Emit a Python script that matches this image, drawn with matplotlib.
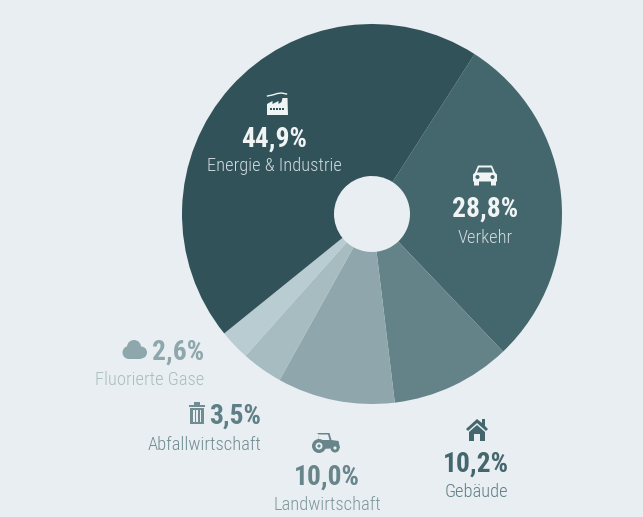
import matplotlib
matplotlib.use('Agg')
import matplotlib.pyplot as plt
from matplotlib.patches import Polygon, Circle, Rectangle

categories = ['Verkehr', 'Gebäude', 'Landwirtschaft', 'Abfallwirtschaft', 'Fluorierte Gase', 'Energie & Industrie']
values = [28.8, 10.2, 10.0, 3.5, 2.6, 44.9]
colors = ['#44666d', '#648389', '#8fa7ac', '#a6bcc1', '#b8ccd2', '#32525a']
pct_colors = ['#f0f4f5', '#44666d', '#67858b', '#5f7f86', '#8ea7ad', '#f0f4f5']
lab_colors = ['#cfdbde', '#5f7f86', '#7d979c', '#718c92', '#a9bdc2', '#cfdbde']

bg = '#e8eef1'
H = 517
plt.rcParams['font.family'] = ['Roboto Condensed', 'Liberation Sans', 'DejaVu Sans']

fig = plt.figure(figsize=(6.43, 5.17), dpi=100, facecolor=bg)
ax = fig.add_axes([0, 0, 1, 1])
ax.pie(values, colors=colors, startangle=57.3, counterclock=False,
       center=(372, H - 214), radius=190,
       wedgeprops=dict(width=152, linewidth=0))
ax.set_xlim(0, 643)
ax.set_ylim(0, H)
ax.axis('off')


def y(v):
    return H - v


def poly(pts, c, z=5):
    ax.add_patch(Polygon([(a, y(b)) for a, b in pts], closed=True, fc=c, ec='none', zorder=z))


def circ(a, b, r, c, z=5):
    ax.add_patch(Circle((a, y(b)), r, fc=c, ec='none', zorder=z))


def rect(a, b, w, h, c, z=5):
    ax.add_patch(Rectangle((a, y(b + h)), w, h, fc=c, ec='none', zorder=z))


def label(x, yp, yl, i, ha='center'):
    txt = str(values[i]).replace('.', ',') + '%'
    ax.text(x, y(yp + 1), txt, ha=ha, va='center', fontsize=19.8, fontweight='bold', color=pct_colors[i], zorder=6)
    ax.text(x, y(yl + 1), categories[i], ha=ha, va='center', fontsize=13.3, fontweight='light', color=lab_colors[i], zorder=6)


def factory(cx, cy, c):
    poly([(cx - 10.5, cy + 9), (cx - 10.5, cy - 2), (cx - 5, cy - 5), (cx - 5, cy - 2), (cx + 1, cy - 5), (cx + 1, cy - 2),
          (cx + 4, cy - 4), (cx + 5, cy - 8), (cx + 10, cy - 8), (cx + 10.5, cy + 9)], c)
    for k in range(5):
        rect(cx - 7.5 + k * 3, cy + 2, 2, 2, '#32525a', 6)
    ax.plot([cx - 10, cx - 5, cx, cx + 4, cx + 9], [y(cy - 10), y(cy - 11), y(cy - 12.5), y(cy - 13), y(cy - 12)],
            color=c, lw=1, zorder=5)


def car(cx, cy, c, dark):
    poly([(cx - 7, cy - 10), (cx + 7, cy - 10), (cx + 10, cy - 3), (cx + 12, cy - 1), (cx + 12, cy + 6), (cx + 11, cy + 6),
          (cx + 11, cy + 10), (cx + 6, cy + 10), (cx + 6, cy + 6), (cx - 6, cy + 6), (cx - 6, cy + 10), (cx - 11, cy + 10),
          (cx - 11, cy + 6), (cx - 12, cy + 6), (cx - 12, cy - 1), (cx - 10, cy - 3)], c)
    poly([(cx - 6, cy - 8), (cx + 6, cy - 8), (cx + 8, cy - 3), (cx - 8, cy - 3)], dark, 6)
    circ(cx - 7.5, cy + 1.5, 2, dark, 6)
    circ(cx + 7.5, cy + 1.5, 2, dark, 6)


def house(cx, cy, c):
    poly([(cx, cy - 11), (cx + 5, cy - 7), (cx + 5, cy - 11), (cx + 8, cy - 11), (cx + 8, cy - 4), (cx + 11, cy - 1),
          (cx + 9, cy + 1), (cx, cy - 7), (cx - 9, cy + 1), (cx - 11, cy - 1)], c)
    poly([(cx, cy - 5), (cx + 8, cy + 2), (cx + 8, cy + 11), (cx + 3, cy + 11), (cx + 3, cy + 4), (cx - 3, cy + 4),
          (cx - 3, cy + 11), (cx - 8, cy + 11), (cx - 8, cy + 2)], c)


def tractor(cx, cy, c):
    poly([(cx - 10, cy - 10), (cx + 3, cy - 10), (cx + 5, cy - 3), (cx + 12, cy - 2), (cx + 13.5, cy + 5), (cx - 5, cy + 6),
          (cx - 8, cy - 2), (cx - 8, cy - 9)], c)
    poly([(cx - 8.5, cy - 8.5), (cx + 1.5, cy - 8.5), (cx + 3, cy - 3), (cx - 7.5, cy - 3)], bg, 6)
    circ(cx - 7.5, cy + 3, 7, c, 7)
    circ(cx - 7.5, cy + 3, 3.5, bg, 8)
    circ(cx - 7.5, cy + 3, 1.6, c, 9)
    circ(cx + 8.5, cy + 5, 4.5, c, 7)
    circ(cx + 8.5, cy + 5, 1.6, bg, 8)


def trash(cx, cy, c):
    rect(cx - 8, cy - 8, 16, 2, c)
    rect(cx - 3, cy - 11, 6, 3, c)
    rect(cx - 7, cy - 5, 14, 16, c)
    for dx in (-4, -0.75, 2.5):
        rect(cx + dx, cy - 3, 1.5, 12, bg, 6)


def cloud(cx, cy, c):
    circ(cx - 6, cy + 3, 6.5, c)
    circ(cx - 1, cy - 2.5, 7, c)
    circ(cx + 6, cy + 3, 6, c)
    rect(cx - 6, cy + 2, 12, 7.5, c)


label(485, 208, 237, 0)
label(476, 463, 491, 1)
label(327, 476, 504, 2)
label(261, 415, 444, 3, ha='right')
label(204, 351, 379, 4, ha='right')
label(274, 138, 165, 5)

factory(277.5, 106, '#f0f4f5')
car(485, 175.5, '#f0f4f5', '#44666d')
house(477, 430, '#44666d')
tractor(326.5, 443, '#67858b')
trash(197, 413, '#6f8d93')
cloud(135, 349.5, '#8ea7ad')

fig.savefig('out.png', dpi=100, facecolor=bg)
